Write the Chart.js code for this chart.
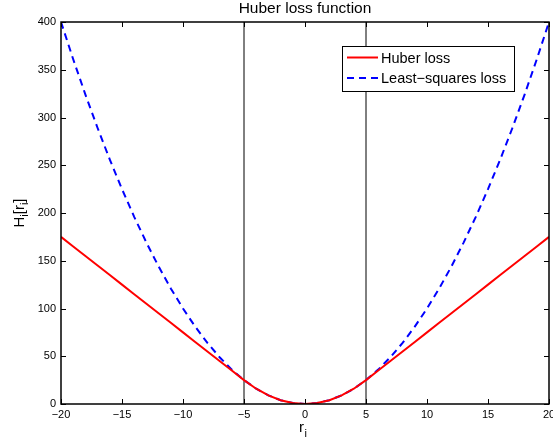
<!DOCTYPE html>
<html>
<head>
<meta charset="utf-8">
<script src="https://cdn.jsdelivr.net/npm/chart.js@4"></script>
<style>
  html, body { margin: 0; padding: 0; background: #fff; }
  #wrap { width: 553px; height: 447px; }
</style>
</head>
<body>
<div id="wrap"><canvas id="chart" width="553" height="447"></canvas></div>
<script>
// residuals r_i
const residuals = [-20,-19,-18,-17,-16,-15,-14,-13,-12,-11,-10,-9,-8,-7,-6,-5,-4,-3,-2,-1,0,
  1,2,3,4,5,6,7,8,9,10,11,12,13,14,15,16,17,18,19,20];
const huberLoss = [175,165,155,145,135,125,115,105,95,85,75,65,55,45,35,25,16,9,4,1,0,
  1,4,9,16,25,35,45,55,65,75,85,95,105,115,125,135,145,155,165,175];
const squaresLoss = [400,361,324,289,256,225,196,169,144,121,100,81,64,49,36,25,16,9,4,1,0,
  1,4,9,16,25,36,49,64,81,100,121,144,169,196,225,256,289,324,361,400];
const thresholds = [-5, 5];
const xTicks = [-20, -15, -10, -5, 0, 5, 10, 15, 20];
const yTicks = [0, 50, 100, 150, 200, 250, 300, 350, 400];

const FONT = "'Liberation Sans', Arial, Helvetica, sans-serif";

const toPts = (xs, ys) => xs.map((x, i) => ({ x: x, y: ys[i] }));

const datasets = [
  { label: "Huber loss", data: toPts(residuals, huberLoss), borderColor: "#ff0000",
    borderWidth: 2, pointRadius: 0, order: 1 },
  { label: "Least\u2212squares loss", data: toPts(residuals, squaresLoss), borderColor: "#0000ff",
    borderWidth: 2, borderDash: [7, 5], pointRadius: 0, order: 2 }
];
thresholds.forEach(t => {
  datasets.push({ label: "", data: [{ x: t, y: yTicks[0] }, { x: t, y: yTicks[yTicks.length - 1] }],
    borderColor: "#000", borderWidth: 1, pointRadius: 0, order: 3 });
});

// inward ticks, frame, titles and legend, MATLAB style
const decor = {
  id: "decor",
  afterDraw(chart) {
    const ctx = chart.ctx;
    const a = chart.chartArea;
    const xs = chart.scales.x, ys = chart.scales.y;
    ctx.save();
    ctx.strokeStyle = "#000";
    ctx.lineWidth = 1;
    ctx.beginPath();
    xTicks.forEach(v => {
      const px = Math.round(xs.getPixelForValue(v)) + 0.5;
      ctx.moveTo(px, a.bottom); ctx.lineTo(px, a.bottom - 5);
      ctx.moveTo(px, a.top); ctx.lineTo(px, a.top + 5);
    });
    yTicks.forEach(v => {
      const py = Math.round(ys.getPixelForValue(v)) + 0.5;
      ctx.moveTo(a.left, py); ctx.lineTo(a.left + 5, py);
      ctx.moveTo(a.right, py); ctx.lineTo(a.right - 5, py);
    });
    ctx.stroke();
    ctx.lineWidth = 1.5;
    ctx.strokeRect(a.left, a.top, a.right - a.left, a.bottom - a.top);

    ctx.fillStyle = "#000";
    // title
    ctx.font = "15.5px " + FONT;
    ctx.textAlign = "center";
    ctx.textBaseline = "middle";
    ctx.fillText("Huber loss function", (a.left + a.right) / 2, 9);

    // x label r_i
    ctx.font = "15px " + FONT;
    ctx.textAlign = "left";
    ctx.textBaseline = "alphabetic";
    const cx = (a.left + a.right) / 2;
    ctx.fillText("r", cx - 6, 432);
    ctx.font = "11px " + FONT;
    ctx.fillText("i", cx - 0.5, 437);

    // y label H_i[r_i]
    ctx.save();
    ctx.translate(24, (a.top + a.bottom) / 2);
    ctx.rotate(-Math.PI / 2);
    const parts = [["H", 15, 0], ["i", 11, 4], ["[r", 15, 0], ["i", 11, 4], ["]", 15, 0]];
    let total = 0;
    parts.forEach(p => { ctx.font = p[1] + "px " + FONT; total += ctx.measureText(p[0]).width; });
    let px = -total / 2;
    parts.forEach(p => {
      ctx.font = p[1] + "px " + FONT;
      ctx.fillText(p[0], px, p[2]);
      px += ctx.measureText(p[0]).width;
    });
    ctx.restore();

    // legend box
    const lx = 342, ly = 46, lw = 172, lh = 45;
    ctx.fillStyle = "#fff";
    ctx.fillRect(lx, ly, lw, lh);
    ctx.strokeStyle = "#000";
    ctx.lineWidth = 1;
    ctx.strokeRect(lx + 0.5, ly + 0.5, lw, lh);
    ctx.font = "14.5px " + FONT;
    ctx.textBaseline = "middle";
    ctx.textAlign = "left";
    datasets.slice(0, 2).forEach((d, i) => {
      const yy = ly + 11.5 + i * 20.5;
      ctx.strokeStyle = d.borderColor;
      ctx.lineWidth = 2;
      ctx.setLineDash(d.borderDash || []);
      ctx.beginPath();
      ctx.moveTo(lx + 5, yy); ctx.lineTo(lx + 36, yy);
      ctx.stroke();
      ctx.setLineDash([]);
      ctx.fillStyle = "#000";
      ctx.fillText(d.label, lx + 39, yy + 1);
    });
    ctx.restore();
  }
};

new Chart(document.getElementById("chart"), {
  type: "line",
  data: { datasets: datasets },
  options: {
    responsive: false,
    animation: false,
    layout: { padding: { top: 22, right: 4, left: 0, bottom: 0 } },
    plugins: { legend: { display: false }, tooltip: { enabled: false } },
    elements: { line: { tension: 0 } },
    scales: {
      x: {
        type: "linear", min: -20, max: 20,
        afterFit: s => { s.height = 43; s.paddingLeft = 0; s.paddingRight = 0; },
        grid: { display: false, drawTicks: false },
        border: { display: false },
        ticks: {
          stepSize: 5, padding: 4, color: "#000", maxRotation: 0,
          font: { family: FONT, size: 11 },
          callback: v => String(v).replace("-", "\u2212")
        }
      },
      y: {
        min: 0, max: 400,
        afterFit: s => { s.width = 61; s.paddingTop = 0; s.paddingBottom = 0; },
        grid: { display: false, drawTicks: false },
        border: { display: false },
        ticks: {
          stepSize: 50, padding: 5, color: "#000",
          font: { family: FONT, size: 11 }
        }
      }
    }
  },
  plugins: [decor]
});
</script>
</body>
</html>
